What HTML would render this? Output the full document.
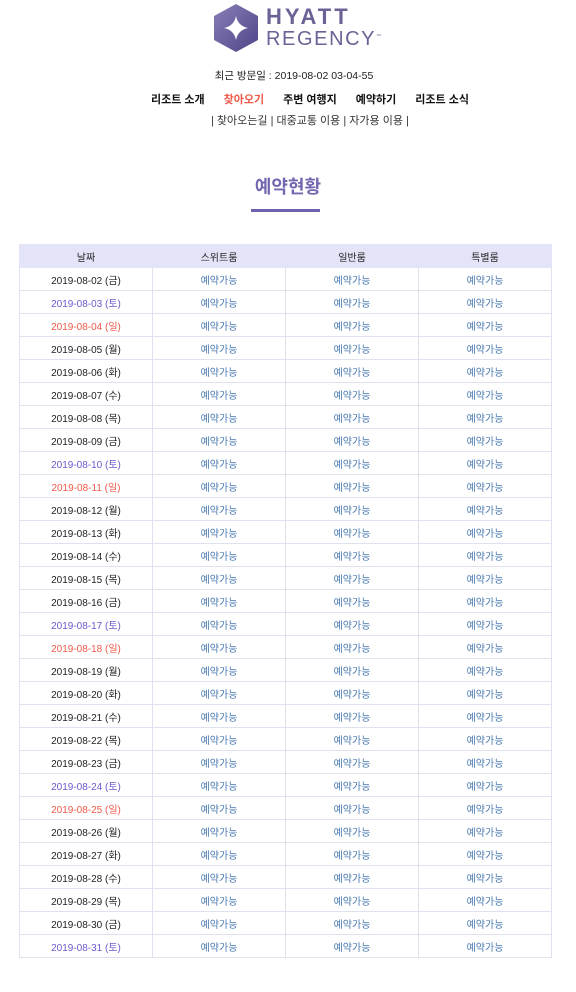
<!DOCTYPE html>
<html><head><meta charset="utf-8">
<style>
*{margin:0;padding:0;box-sizing:border-box}
body{width:576px;height:992px;background:#fff;font-family:"Liberation Sans","Noto Sans CJK KR",sans-serif;position:relative;overflow:hidden}
.abs{position:absolute}
#logo-text{left:266px;top:6px;color:#6c6296;line-height:1}
#nav{top:91px;left:151px;white-space:nowrap;font-size:11px;font-weight:bold;color:#111}
#nav span{margin-right:19px}
#sub{top:112px;left:211px;white-space:nowrap;font-size:11px;color:#333}
#title{top:173px;left:0;width:576px;text-align:center;font-size:18px;font-weight:bold;color:#7467b0}
#uline{left:251px;top:209px;width:69px;height:3px;background:#6e62ad}
table{position:absolute;left:19px;top:244px;width:533px;border-collapse:collapse;font-size:10px;table-layout:fixed}
th{background:#e4e4f8;height:23px;font-weight:normal;color:#222;border:1px solid #e4e4f8}
td{height:23px;text-align:center;border:1px solid #e0e0ee;color:#4a7ab0}
td.d{color:#222}
td.sat{color:#6a5acd}
td.sun{color:#f05a4a}
</style></head><body>
<svg class="abs" style="left:214px;top:4px" width="44" height="48" viewBox="0 0 44 48">
<defs><linearGradient id="g" x1="0" y1="0" x2="1" y2="1"><stop offset="0" stop-color="#8a7fb8"/><stop offset="1" stop-color="#4e4488"/></linearGradient></defs>
<polygon points="22,0 44,12 44,36 22,48 0,36 0,12" fill="url(#g)"/>
<path d="M22 12 Q24 22 34 24 Q24 26 22 36 Q20 26 10 24 Q20 22 22 12Z" fill="#fff"/>
</svg>
<div id="logo-text" class="abs">
<div style="font-size:22px;font-weight:bold;letter-spacing:3px">HYATT</div>
<div style="font-size:20px;letter-spacing:1.6px;margin-top:1px">REGENCY<sup style="font-size:5px">™</sup></div>
</div>
<div class="abs" style="top:68px;left:0;width:588px;text-align:center;font-size:10.5px;color:#222">최근 방문일 : 2019-08-02 03-04-55</div>
<div id="nav" class="abs">
<span>리조트 소개</span><span style="color:#f05a4a">찾아오기</span><span>주변 여행지</span><span>예약하기</span><span>리조트 소식</span>
</div>
<div id="sub" class="abs">| <span>찾아오는길</span> | <span>대중교통 이용</span> | <span>자가용 이용</span> |</div>
<div id="title" class="abs">예약현황</div>
<div id="uline" class="abs"></div>
<table>
<thead><tr><th>날짜</th><th>스위트룸</th><th>일반룸</th><th>특별룸</th></tr></thead>
<tbody id="tb"></tbody>
</table>
<script>
const dates = ["2019-08-02","2019-08-03","2019-08-04","2019-08-05","2019-08-06","2019-08-07","2019-08-08","2019-08-09","2019-08-10","2019-08-11","2019-08-12","2019-08-13","2019-08-14","2019-08-15","2019-08-16","2019-08-17","2019-08-18","2019-08-19","2019-08-20","2019-08-21","2019-08-22","2019-08-23","2019-08-24","2019-08-25","2019-08-26","2019-08-27","2019-08-28","2019-08-29","2019-08-30","2019-08-31"];
const weekdays = ["금","토","일","월","화","수","목","금","토","일","월","화","수","목","금","토","일","월","화","수","목","금","토","일","월","화","수","목","금","토"];
const rooms = ["suite","standard","special"];
const status = "예약가능";
const tb = document.getElementById('tb');
dates.forEach((d, i) => {
  const tr = document.createElement('tr');
  
  
  const td = document.createElement('td');
  td.className = 'd' + (weekdays[i] === '토' ? ' sat' : weekdays[i] === '일' ? ' sun' : '');
  td.textContent = d + ' (' + weekdays[i] + ')';
  
  
  tr.appendChild(td);
  rooms.forEach(r => {
    const c = document.createElement('td');
    c.textContent = status;
    
    
    tr.appendChild(c);
  });
  tb.appendChild(tr);
});
</script>
</body></html>
